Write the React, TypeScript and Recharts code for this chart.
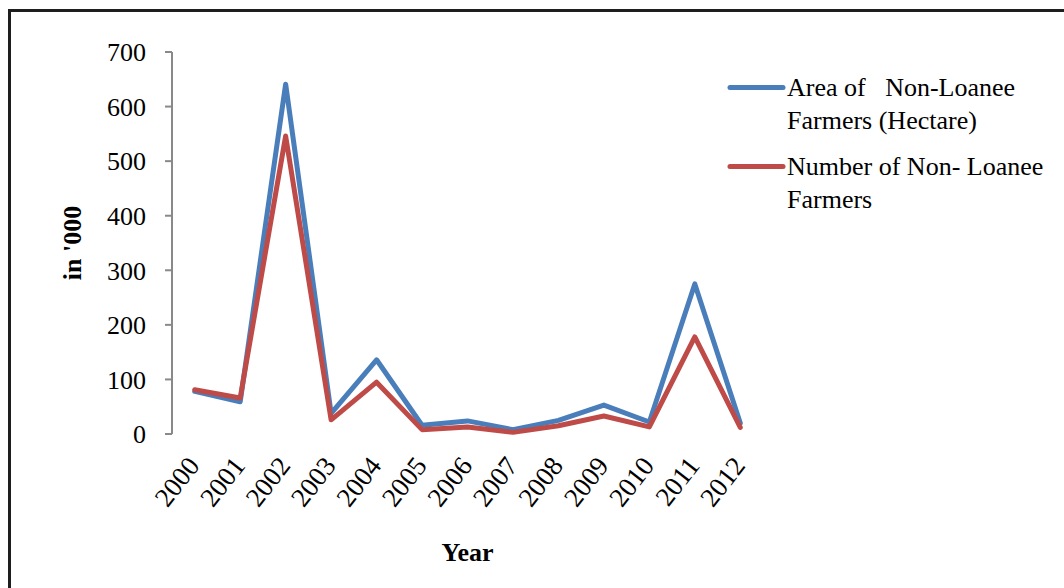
import React from 'react';
import { LineChart, Line, XAxis, YAxis, Legend } from 'recharts';

const years = ['2000', '2001', '2002', '2003', '2004', '2005', '2006', '2007', '2008', '2009', '2010', '2011', '2012'];
const areaNonLoanee = [78, 59, 641, 38, 136, 16, 24, 8, 25, 53, 22, 275, 20];
const numberNonLoanee = [81, 66, 546, 26, 95, 8, 13, 3, 15, 33, 13, 178, 12];
const yTicks = [0, 100, 200, 300, 400, 500, 600, 700];
const edgeTicks = Array.from({ length: years.length + 1 }, (_, i) => i);

const AREA_NAME = 'Area of   Non-Loanee\nFarmers (Hectare)';
const NUMBER_NAME = 'Number of Non- Loanee\nFarmers';

const FONT = '"Liberation Serif", "Times New Roman", serif';
const AXIS = '#898989';
const BLUE = '#4A7EBB';
const RED = '#BE4B48';

const data = years.map((year, i) => ({
  year,
  area: areaNonLoanee[i],
  number: numberNonLoanee[i],
}));

// year labels sit slanted under each category, ending just right of the point
const YearTick = (props: any) => {
  const { x, y, payload } = props;
  return (
    <g transform={`translate(${x + 6},${y + 32})`}>
      <text textAnchor="end" transform="rotate(-52)" fill="#000" fontSize={27} fontFamily={FONT}>
        {payload.value}
      </text>
    </g>
  );
};

const YTitle = (props: any) => {
  const { viewBox } = props;
  const cx = viewBox.x;
  const cy = viewBox.y + viewBox.height / 2;
  return (
    <text
      x={cx}
      y={cy}
      transform={`rotate(-90, ${cx}, ${cy})`}
      textAnchor="middle"
      dominantBaseline="central"
      fontSize={26}
      fontWeight="bold"
      fontFamily={FONT}
      fill="#000"
    >
      in '000
    </text>
  );
};

const XTitle = (props: any) => {
  const { viewBox } = props;
  return (
    <text
      x={viewBox.x + viewBox.width / 2}
      y={552}
      textAnchor="middle"
      dominantBaseline="central"
      fontSize={26}
      fontWeight="bold"
      fontFamily={FONT}
      fill="#000"
    >
      Year
    </text>
  );
};

const SeriesLegend = (props: any) => {
  const { payload } = props;
  return (
    <div style={{ fontFamily: FONT, fontSize: 26, color: '#000' }}>
      {(payload || []).map((item: any) => (
        <div key={item.value} style={{ display: 'flex', alignItems: 'flex-start', marginBottom: 13 }}>
          <svg width={60} height={33} style={{ flexShrink: 0 }}>
            <line x1={3} y1={16.5} x2={56} y2={16.5} stroke={item.color} strokeWidth={5} strokeLinecap="round" />
          </svg>
          <div style={{ whiteSpace: 'pre', lineHeight: '33px' }}>{item.value}</div>
        </div>
      ))}
    </div>
  );
};

export default function App() {
  return (
    <div style={{ position: 'absolute', left: 0, top: 0, width: 1064, height: 588, overflow: 'hidden', background: '#fff' }}>
      <div
        style={{
          position: 'absolute',
          left: 8,
          top: 9,
          width: 1100,
          height: 640,
          border: '3px solid #1e1e1e',
        }}
      />
      <div style={{ position: 'absolute', left: 0, top: 0 }}>
        <LineChart width={1064} height={588} data={data} margin={{ top: 52, right: 301, left: 72, bottom: 14 }}>
          {/* bare axis carrying the tick marks between categories */}
          <XAxis
            xAxisId="edges"
            type="number"
            domain={[0, years.length]}
            ticks={edgeTicks}
            allowDataOverflow
            height={0}
            tick={false}
            tickSize={7}
            stroke={AXIS}
            strokeWidth={2}
          />
          <XAxis
            xAxisId="years"
            dataKey="year"
            padding={{ left: 591 / 26, right: 591 / 26 }}
            height={140}
            axisLine={false}
            tickLine={false}
            tickSize={0}
            tickMargin={0}
            interval={0}
            tick={<YearTick />}
            label={<XTitle />}
          />
          <YAxis
            width={100}
            domain={[0, 700]}
            ticks={yTicks}
            tickSize={7}
            tickMargin={19}
            stroke={AXIS}
            strokeWidth={2}
            tick={{ fill: '#000', fontSize: 26, fontFamily: FONT }}
            label={<YTitle />}
          />
          <Legend
            layout="horizontal"
            verticalAlign="middle"
            wrapperStyle={{ left: 727, top: 71, width: 337 }}
            content={<SeriesLegend />}
          />
          <Line
            xAxisId="years"
            name={AREA_NAME}
            dataKey="area"
            stroke={BLUE}
            strokeWidth={5}
            strokeLinejoin="round"
            strokeLinecap="round"
            dot={false}
            activeDot={false}
            isAnimationActive={false}
          />
          <Line
            xAxisId="years"
            name={NUMBER_NAME}
            dataKey="number"
            stroke={RED}
            strokeWidth={5}
            strokeLinejoin="round"
            strokeLinecap="round"
            dot={false}
            activeDot={false}
            isAnimationActive={false}
          />
        </LineChart>
      </div>
    </div>
  );
}
